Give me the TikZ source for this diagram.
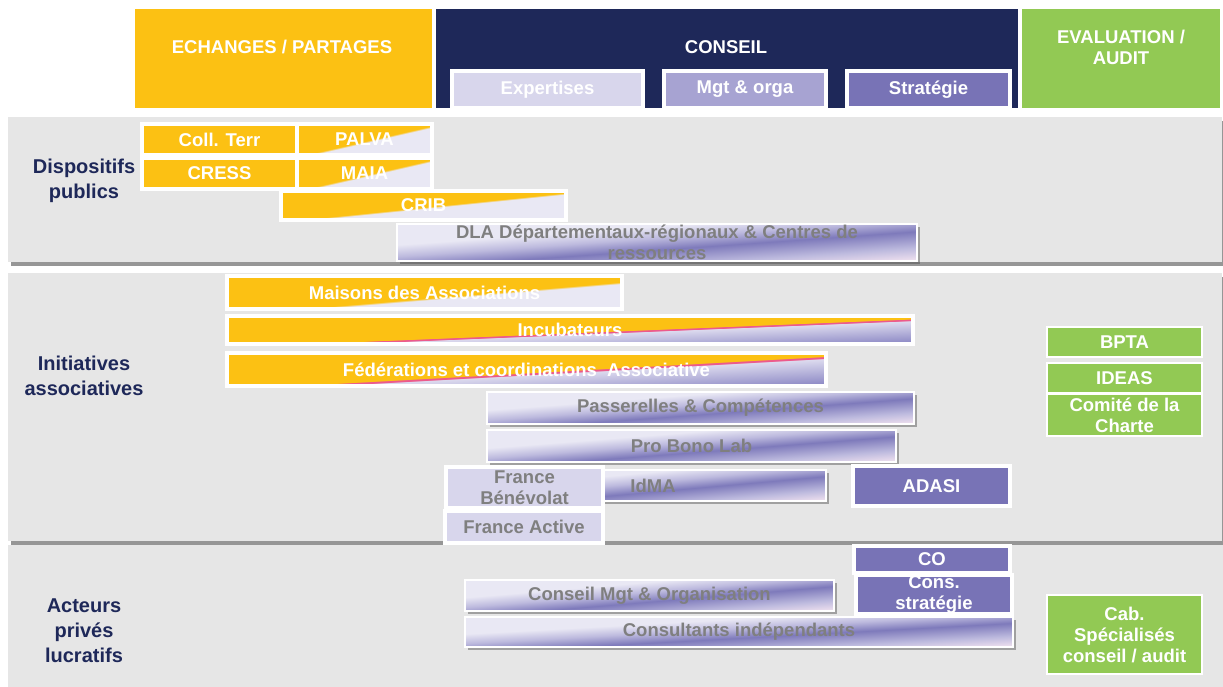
\documentclass[tikz,border=0pt]{standalone}
\usepackage{fontspec}
\setmainfont{Liberation Sans}
\usetikzlibrary{shadows}

\definecolor{orgc}{HTML}{FCC113}
\definecolor{navy}{HTML}{1E2859}
\definecolor{grn}{HTML}{92C954}
\definecolor{bandg}{HTML}{E6E6E6}
\definecolor{lavbox}{HTML}{D8D6EC}
\definecolor{lavmid}{HTML}{A7A3D2}
\definecolor{purbox}{HTML}{7873B6}
\definecolor{greytxt}{HTML}{7F7F7F}
\definecolor{lavlt}{HTML}{E9E8F4}
\definecolor{lavlt2}{HTML}{DCDAEE}
\definecolor{lavmd}{HTML}{BDBADE}
\definecolor{purst}{HTML}{7E7ABB}
\definecolor{purdk}{HTML}{8783C2}
\definecolor{pinkw}{HTML}{F3E3F0}
\definecolor{pinkln}{HTML}{EC5A8C}

% diagonal shadings: 75bp = upper left corner, 50bp = diagonal, 25bp = lower right corner
\pgfdeclareverticalshading{orglav}{100bp}{color(0bp)=(lavlt); color(47bp)=(lavlt); color(48.5bp)=(orgc); color(100bp)=(orgc)}
\pgfdeclareverticalshading{orglavm}{100bp}{color(0bp)=(lavlt); color(44bp)=(lavlt); color(45.5bp)=(orgc); color(100bp)=(orgc)}
\pgfdeclareverticalshading{orgpurp}{100bp}{color(0bp)=(purdk); color(25bp)=(purdk); color(45.5bp)=(lavlt2); color(46.2bp)=(pinkln); color(47bp)=(pinkln); color(47.7bp)=(orgc); color(100bp)=(orgc)}
\pgfdeclareverticalshading{lavstripe}{100bp}{color(0bp)=(pinkw); color(25bp)=(pinkw); color(34bp)=(lavmd); color(45bp)=(purst); color(53bp)=(lavmd); color(61bp)=(lavlt); color(100bp)=(lavlt)}

\newcommand\bxfont{\fontsize{18.5}{21}\selectfont\bfseries}
\newcommand\lblfont{\fontsize{20}{25}\selectfont\bfseries}

% sheared shading, clipped to the box x1,y1,x2,y2
\newcommand\diagshade[5]{%
  \begin{scope}
    \clip (#2,#3) rectangle (#4,#5);
    \pgfmathsetmacro\dgk{(#5-#3)/(#4-#2)}
    \pgfmathsetmacro\dgpx{(#2+#4)/2}
    \pgfmathsetmacro\dgh{#5-#3}
    \begin{scope}[transform canvas={cm={1,\dgk,0,1,(0pt,{-\dgk*\dgpx*1pt})}}]
      \shade[shading=#1] (#2,{#3-\dgh/2}) rectangle (#4,{#5+\dgh/2});
    \end{scope}
  \end{scope}}

\tikzset{
  band/.style={fill=bandg, drop shadow={shadow xshift=3pt, shadow yshift=-4pt, fill=black!75, opacity=.55}},
  shad/.style={fill=black!70, opacity=.45, xshift=3pt, yshift=-3pt},
  hdr/.style={anchor=north west, inner sep=0pt, outer sep=0pt},
  hdrtxt/.style={font=\bxfont, text=white, align=center},
  box/.style={anchor=north west, inner sep=0pt, outer sep=0pt, draw=white, line width=3.5pt, font=\bxfont, text=white, align=center},
  orgbox/.style={box, fill=orgc},
  lsbox/.style={box, line width=1.5pt, text=greytxt},
  lavbx/.style={box, fill=lavbox, text=greytxt},
  purbx/.style={box, fill=purbox},
  grnbox/.style={box, line width=1.5pt, fill=grn},
  lbl/.style={font=\lblfont, text=navy, align=center}
}

\begin{document}
\begin{tikzpicture}[x=1pt, y=-1pt]
\useasboundingbox (0,0) rectangle (1223,687);

% bands
\fill[band] (8,117) rectangle (1222,262);
\fill[band] (8,273) rectangle (1222,541);
\fill[band] (8,545) rectangle (1223,687);

% header
\node[hdr, fill=orgc, minimum width=297, minimum height=99] (echanges) at (135,9) {};
\node[hdr, fill=navy, minimum width=582, minimum height=99] (conseil) at (436,9) {};
\node[hdr, fill=grn, minimum width=198, minimum height=99] (evaluation) at (1022,9) {};
\node[hdrtxt] (echanges-t) at (282,47) {ECHANGES / PARTAGES};
\node[hdrtxt] (conseil-t) at (726,47) {CONSEIL};
\node[hdrtxt] (evaluation-t) at (1121,47) {EVALUATION /\\AUDIT};
\node[box, fill=lavbox, minimum width=191, minimum height=37] (expertises) at (452,71) {Expertises};
\node[box, fill=lavmid, minimum width=162, minimum height=37] (mgt) at (664,71) {Mgt \& orga};
\node[box, fill=purbox, minimum width=163, minimum height=37] (strategie) at (847,71) {Stratégie};

% left labels
\node[lbl] (dispositifs) at (84,181) {Dispositifs\\publics};
\node[lbl] (initiatives) at (84,376) {Initiatives\\associatives};
\node[lbl] (acteurs) at (84,631) {Acteurs\\privés\\lucratifs};

% dispositifs publics
\node[orgbox, minimum width=155, minimum height=31] (coll) at (142,124) {Coll. Terr};
\diagshade{orglav}{297}{124}{432}{155}
\node[box, minimum width=135, minimum height=31] (palva) at (297,124) {PALVA};
\node[orgbox, minimum width=155, minimum height=31] (cress) at (142,158) {CRESS};
\diagshade{orglav}{297}{158}{432}{189}
\node[box, minimum width=135, minimum height=31] (maia) at (297,158) {MAIA};
\diagshade{orglav}{281}{191}{566}{220}
\node[box, minimum width=285, minimum height=29] (crib) at (281,191) {CRIB};
\fill[shad] (397,224) rectangle (917,261);
\diagshade{lavstripe}{397}{224}{917}{261}
\node[lsbox, minimum width=520, minimum height=37] (dla) at (397,224) {DLA Départementaux-régionaux \& Centres de\\ressources};

% initiatives associatives
\diagshade{orglavm}{227}{276}{622}{309}
\node[box, minimum width=395, minimum height=33] (maisons) at (227,276) {Maisons des Associations};
\diagshade{orgpurp}{227}{316}{913}{344}
\node[box, minimum width=686, minimum height=28] (incub) at (227,316) {Incubateurs};
\diagshade{orgpurp}{227}{353}{826}{386}
\node[box, minimum width=599, minimum height=33] (feder) at (227,353) {Fédérations et coordinations~ Associative};
\fill[shad] (487,392) rectangle (914,424);
\diagshade{lavstripe}{487}{392}{914}{424}
\node[lsbox, minimum width=427, minimum height=32] (passerelles) at (487,392) {Passerelles \& Compétences};
\fill[shad] (487,430) rectangle (896,462);
\diagshade{lavstripe}{487}{430}{896}{462}
\node[lsbox, minimum width=409, minimum height=32] (probono) at (487,430) {Pro Bono Lab};
\fill[shad] (480,470) rectangle (826,501);
\diagshade{lavstripe}{480}{470}{826}{501}
\node[lsbox, minimum width=346, minimum height=31] (idma) at (480,470) {IdMA};
\node[lavbx, minimum width=157, minimum height=41] (benevolat) at (446,467) {France\\Bénévolat};
\node[lavbx, minimum width=158, minimum height=32] (active) at (445,511) {France Active};
\node[purbx, minimum width=157, minimum height=40] (adasi) at (853,466) {ADASI};
\node[grnbox, minimum width=155, minimum height=30] (bpta) at (1047,327) {BPTA};
\node[grnbox, minimum width=155, minimum height=30] (ideas) at (1047,363) {IDEAS};
\node[grnbox, minimum width=155, minimum height=42] (comite) at (1047,394) {Comité de la\\Charte};

% acteurs prives lucratifs
\node[purbx, minimum width=156, minimum height=27] (co) at (854,546) {CO};
\node[purbx, minimum width=156, minimum height=39] (consstrat) at (856,575) {Cons.\\stratégie};
\fill[shad] (465,580) rectangle (834,611);
\diagshade{lavstripe}{465}{580}{834}{611}
\node[lsbox, minimum width=369, minimum height=31] (conseilmgt) at (465,580) {Conseil Mgt \& Organisation};
\fill[shad] (465,617) rectangle (1013,647);
\diagshade{lavstripe}{465}{617}{1013}{647}
\node[lsbox, minimum width=548, minimum height=30] (consultants) at (465,617) {Consultants indépendants};
\node[grnbox, minimum width=155, minimum height=79] (cab) at (1047,595) {Cab.\\Spécialisés\\conseil / audit};

\end{tikzpicture}
\end{document}
